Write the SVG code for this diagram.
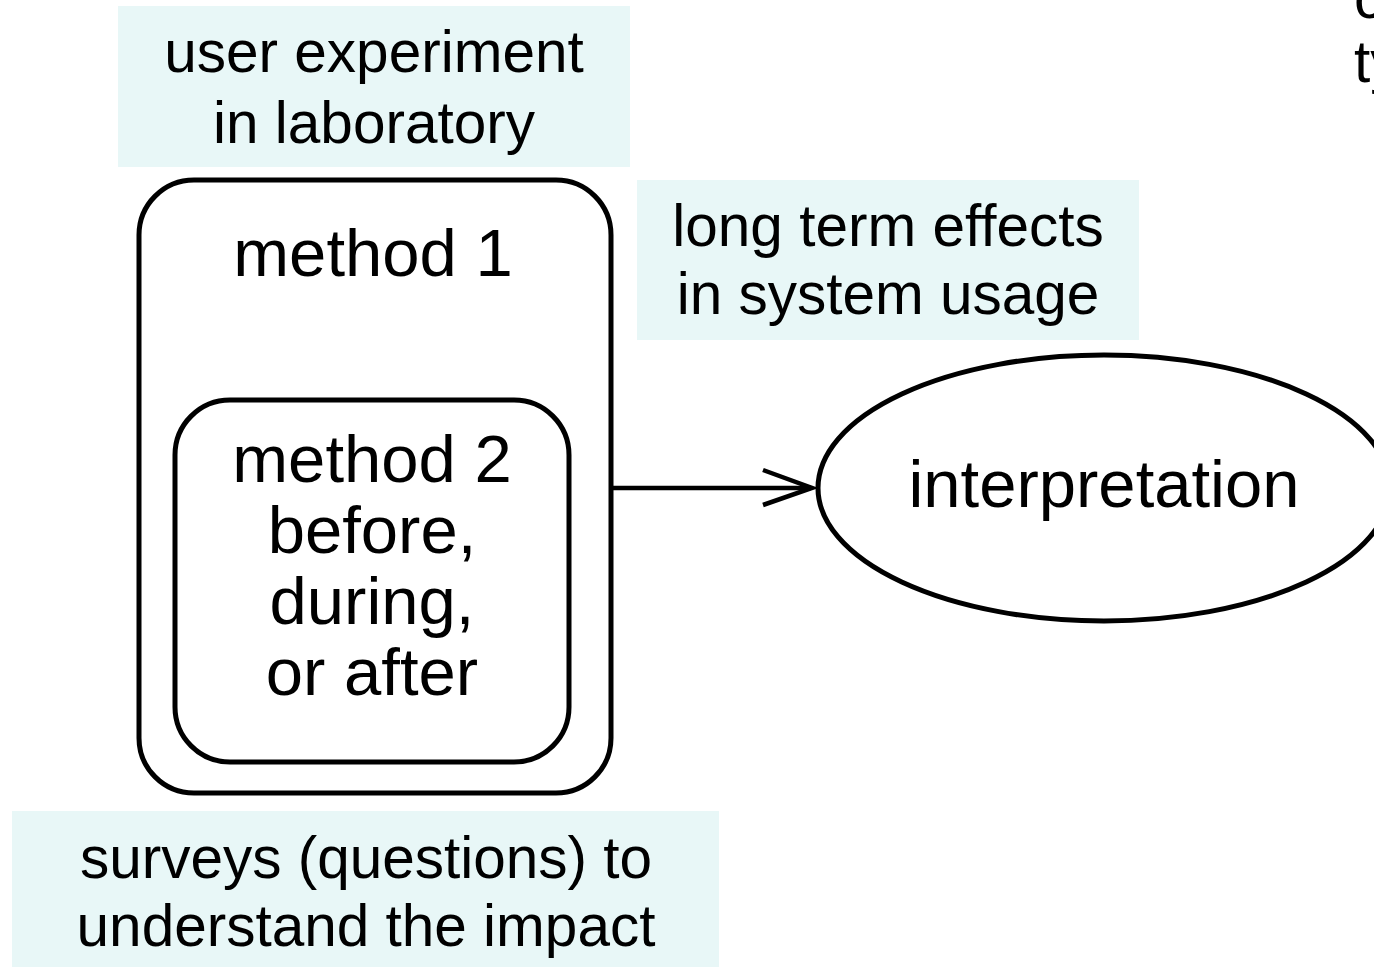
<svg xmlns="http://www.w3.org/2000/svg" width="1374" height="967" viewBox="0 0 1374 967">
<style>
  text { font-family: "Liberation Sans", Arial, sans-serif; fill: #000; text-anchor: middle; }
  .lbl { font-size: 58.5px; }
  .nd { font-size: 67px; }
  .bg { fill: #e8f7f7; stroke: none; }
  .shape { fill: #fff; stroke: #000; stroke-width: 5; }
  .conn { fill: none; stroke: #000; stroke-width: 4.5; }
</style>
<rect width="1374" height="967" fill="#fff"/>
<g id="label-lab">
  <rect class="bg" x="118" y="6" width="512" height="161"/>
  <text class="lbl" x="374" y="72">user experiment</text>
  <text class="lbl" x="374" y="143">in laboratory</text>
</g>
<g id="label-long">
  <rect class="bg" x="637" y="180" width="502" height="160"/>
  <text class="lbl" x="888" y="246">long term effects</text>
  <text class="lbl" x="888" y="314">in system usage</text>
</g>
<g id="label-surveys">
  <rect class="bg" x="12" y="811" width="707" height="156"/>
  <text class="lbl" x="366" y="878">surveys (questions) to</text>
  <text class="lbl" x="366" y="946">understand the impact</text>
</g>
<g id="label-topright">
  <text class="lbl" x="1354" y="18" style="text-anchor:start">c</text>
  <text class="lbl" x="1354" y="82" style="text-anchor:start">ty</text>
</g>
<g id="method1">
  <rect class="shape" x="139" y="180" width="472" height="613" rx="55" ry="55"/>
  <text class="nd" x="373" y="276">method 1</text>
</g>
<g id="method2">
  <rect class="shape" x="175" y="400" width="394" height="362" rx="55" ry="55"/>
  <text class="nd" x="372" y="482">method 2</text>
  <text class="nd" x="372" y="553">before,</text>
  <text class="nd" x="372" y="624">during,</text>
  <text class="nd" x="372" y="695">or after</text>
</g>
<g id="interpretation">
  <ellipse class="shape" cx="1104" cy="488" rx="286" ry="133"/>
  <text class="nd" x="1104" y="507">interpretation</text>
</g>
<g id="connectors">
  <line class="conn" x1="611" y1="488" x2="811" y2="488"/>
  <polyline class="conn" points="763,470 812,488 763,505"/>
</g>
</svg>
